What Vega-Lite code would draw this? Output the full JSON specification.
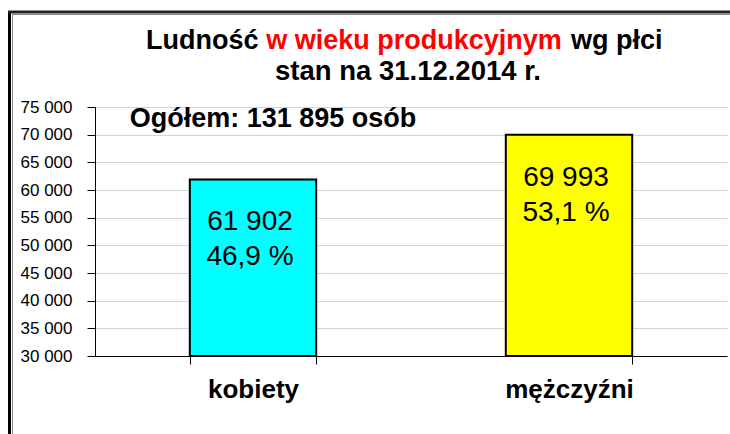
{
  "$schema": "https://vega.github.io/schema/vega-lite/v6.json",
  "width": 632,
  "height": 249,
  "autosize": {"type": "none"},
  "padding": {"left": 95, "top": 107, "right": 3, "bottom": 78},
  "background": "white",
  "config": {
    "font": "Liberation Sans",
    "view": {"stroke": null},
    "axisY": {
      "labelFontSize": 17,
      "labelColor": "black",
      "labelPadding": 15,
      "labelOverlap": false,
      "labelFlush": false,
      "tickSize": 8,
      "tickColor": "black",
      "domainColor": "black",
      "gridColor": "#d4d4d4",
      "gridWidth": 1
    }
  },
  "data": {
    "values": [
      {"plec": "kobiety", "value": 61902, "pct": 46.9},
      {"plec": "mężczyźni", "value": 69993, "pct": 53.1}
    ]
  },
  "layer": [
    {
      "data": {"values": [{}]},
      "mark": {"type": "rule", "color": "black", "strokeWidth": 3},
      "encoding": {"x": {"value": -85.5}, "y": {"value": -96}, "y2": {"value": 330}}
    },
    {
      "data": {"values": [{}]},
      "mark": {"type": "rule", "color": "#8a8a8a", "strokeWidth": 1},
      "encoding": {"x": {"value": -82.5}, "y": {"value": -92.5}, "y2": {"value": 330}}
    },
    {
      "data": {"values": [{}]},
      "mark": {"type": "rule", "color": "#222222", "strokeWidth": 3},
      "encoding": {"x": {"value": -87}, "x2": {"value": 640}, "y": {"value": -95}}
    },
    {
      "data": {"values": [{}]},
      "mark": {"type": "rule", "color": "#8a8a8a", "strokeWidth": 1},
      "encoding": {"x": {"value": -83}, "x2": {"value": 640}, "y": {"value": -92.5}}
    },
    {
      "mark": {"type": "bar", "stroke": "black", "strokeWidth": 2},
      "encoding": {
        "x": {
          "field": "plec",
          "type": "nominal",
          "sort": null,
          "scale": {"paddingInner": 0.6, "paddingOuter": 0.3},
          "axis": {
            "title": null,
            "labelAngle": 0,
            "labelFontSize": 26,
            "labelFontWeight": "bold",
            "labelColor": "black",
            "labelBaseline": "alphabetic",
            "labelPadding": 33,
            "tickSize": 8,
            "tickColor": "black",
            "domainColor": "black",
            "tickBand": "extent",
            "grid": false
          }
        },
        "y": {
          "field": "value",
          "type": "quantitative",
          "scale": {"domain": [30000, 75000], "nice": false, "zero": false},
          "axis": {
            "title": null,
            "values": [30000, 35000, 40000, 45000, 50000, 55000, 60000, 65000, 70000, 75000],
            "tickCount": 10,
            "labelExpr": "replace(format(datum.value, ',d'), ',', ' ')"
          }
        },
        "y2": {"datum": 30000},
        "color": {
          "field": "plec",
          "type": "nominal",
          "scale": {"domain": ["kobiety", "mężczyźni"], "range": ["#00FFFF", "#FFFF00"]},
          "legend": null
        }
      }
    },
    {
      "transform": [
        {"calculate": "replace(format(datum.value, ',d'), ',', ' ') + '\\n' + replace(format(datum.pct, '.1f'), '.', ',') + ' %'", "as": "label"}
      ],
      "mark": {"type": "text", "fontSize": 28, "color": "black", "align": "center", "baseline": "alphabetic", "dy": 51, "dx": -3, "lineBreak": "\n", "lineHeight": 35},
      "encoding": {
        "x": {"field": "plec", "type": "nominal", "sort": null},
        "y": {
          "field": "value",
          "type": "quantitative",
          "axis": {
            "title": null,
            "values": [30000, 35000, 40000, 45000, 50000, 55000, 60000, 65000, 70000, 75000],
            "tickCount": 10,
            "labelExpr": "replace(format(datum.value, ',d'), ',', ' ')"
          }
        },
        "text": {"field": "label"}
      }
    },
    {
      "data": {"values": [{"t": "Ogółem: 131 895 osób"}]},
      "mark": {"type": "text", "fontSize": 27, "fontWeight": "bold", "color": "black", "align": "center", "baseline": "alphabetic", "dx": 20},
      "encoding": {
        "x": {"datum": "kobiety", "type": "nominal"},
        "y": {
          "datum": 71400,
          "type": "quantitative",
          "axis": {
            "title": null,
            "values": [30000, 35000, 40000, 45000, 50000, 55000, 60000, 65000, 70000, 75000],
            "tickCount": 10,
            "labelExpr": "replace(format(datum.value, ',d'), ',', ' ')"
          }
        },
        "text": {"field": "t"}
      }
    },
    {
      "data": {"values": [{"t": "w wieku produkcyjnym"}]},
      "mark": {"type": "text", "fontSize": 27, "fontWeight": "bold", "color": "#FF0000", "align": "center", "baseline": "alphabetic"},
      "encoding": {"x": {"value": 319}, "y": {"value": -58}, "text": {"field": "t"}}
    },
    {
      "data": {"values": [{"t": "Ludność"}]},
      "mark": {"type": "text", "fontSize": 27, "fontWeight": "bold", "color": "black", "align": "right", "baseline": "alphabetic"},
      "encoding": {"x": {"value": 163.5}, "y": {"value": -58}, "text": {"field": "t"}}
    },
    {
      "data": {"values": [{"t": "wg płci"}]},
      "mark": {"type": "text", "fontSize": 27, "fontWeight": "bold", "color": "black", "align": "left", "baseline": "alphabetic"},
      "encoding": {"x": {"value": 476}, "y": {"value": -58}, "text": {"field": "t"}}
    },
    {
      "data": {"values": [{"t": "stan na 31.12.2014 r."}]},
      "mark": {"type": "text", "fontSize": 27.5, "fontWeight": "bold", "color": "black", "align": "center", "baseline": "alphabetic"},
      "encoding": {"x": {"value": 313}, "y": {"value": -27}, "text": {"field": "t"}}
    }
  ]
}
